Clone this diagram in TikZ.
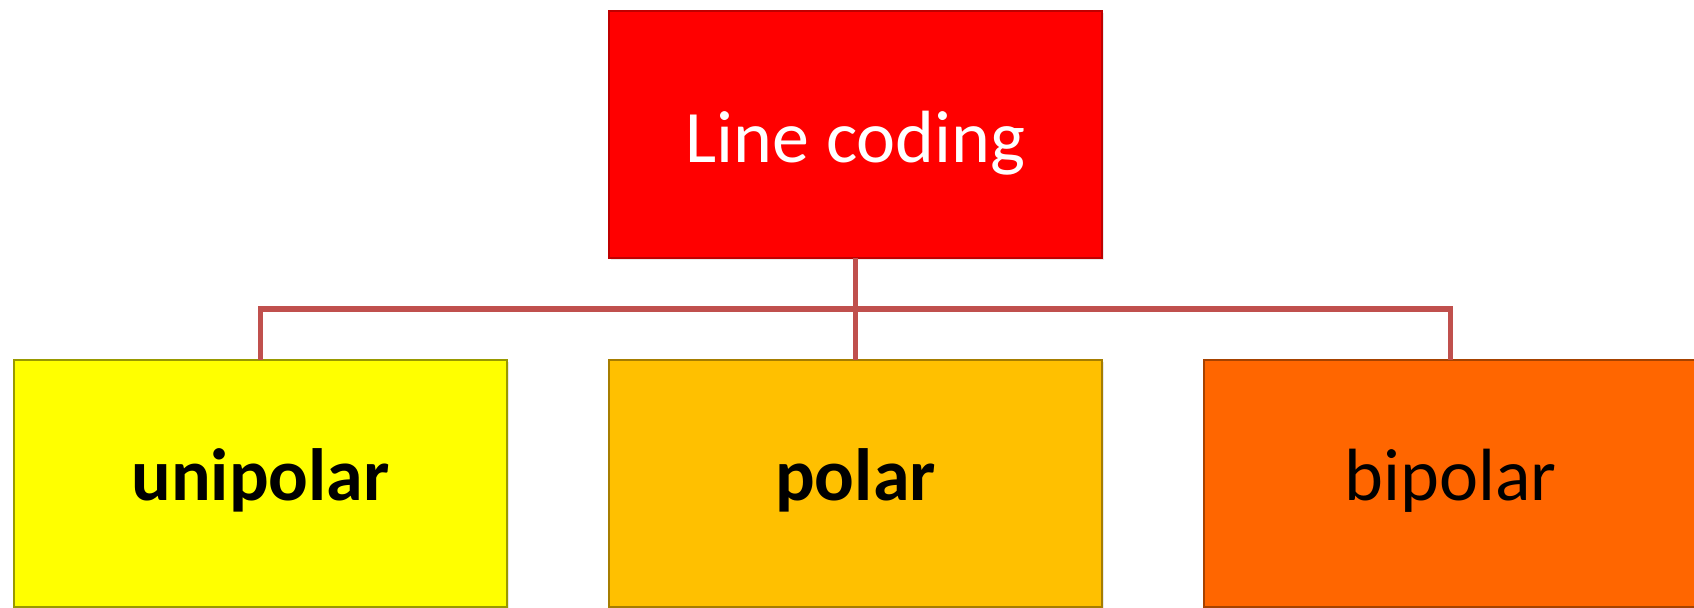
\documentclass[tikz,border=0pt]{standalone}
\usepackage{fontspec}
\setmainfont{Carlito}
\usetikzlibrary{shadows}
\definecolor{linkred}{HTML}{C0504D}
\definecolor{boxred}{HTML}{FF0000}
\definecolor{boxyellow}{HTML}{FFFF00}
\definecolor{boxamber}{HTML}{FFC000}
\definecolor{boxorange}{HTML}{FF6600}
\newcommand{\labelsize}{\fontsize{37}{44}\selectfont}
\tikzset{
  block/.style={rectangle, inner sep=0pt, outer sep=0pt,
    minimum width=246.5pt, minimum height=123.5pt,
    font=\labelsize, line width=0.6pt,
    drop shadow={opacity=0.18, shadow xshift=1.2pt, shadow yshift=-1.2pt}},
  toplabel/.style={block, text height=28.4pt, text depth=0pt},
  lowlabel/.style={block, text height=17.4pt, text depth=0pt},
  link/.style={draw=linkred, line width=2.6pt, line join=miter}
}
\begin{document}
\begin{tikzpicture}[x=0.5pt, y=-0.5pt]
  \clip (0,0) rectangle (1694,607);
  \fill[white] (0,0) rectangle (1694,607);
  % root of the tree
  \node[toplabel, fill=boxred, draw=boxred!75!black, text=white] (root) at (855.5,134.5) {Line coding};
  % three kinds of line code
  \node[lowlabel, fill=boxyellow, draw=boxyellow!60!black, font=\labelsize\bfseries] (uni) at (260.5,483.5) {unipolar};
  \node[lowlabel, fill=boxamber, draw=boxamber!65!black, font=\labelsize\bfseries] (pol) at (855.5,483.5) {polar};
  \node[lowlabel, fill=boxorange, draw=boxorange!65!black] (bip) at (1450.5,483.5) {bipolar};
  % connectors
  \coordinate (bus) at (855.5,309);
  \draw[link] (uni.north) |- (bus) -| (bip.north);
  \draw[link] (root.south) -- (pol.north);
\end{tikzpicture}
\end{document}
